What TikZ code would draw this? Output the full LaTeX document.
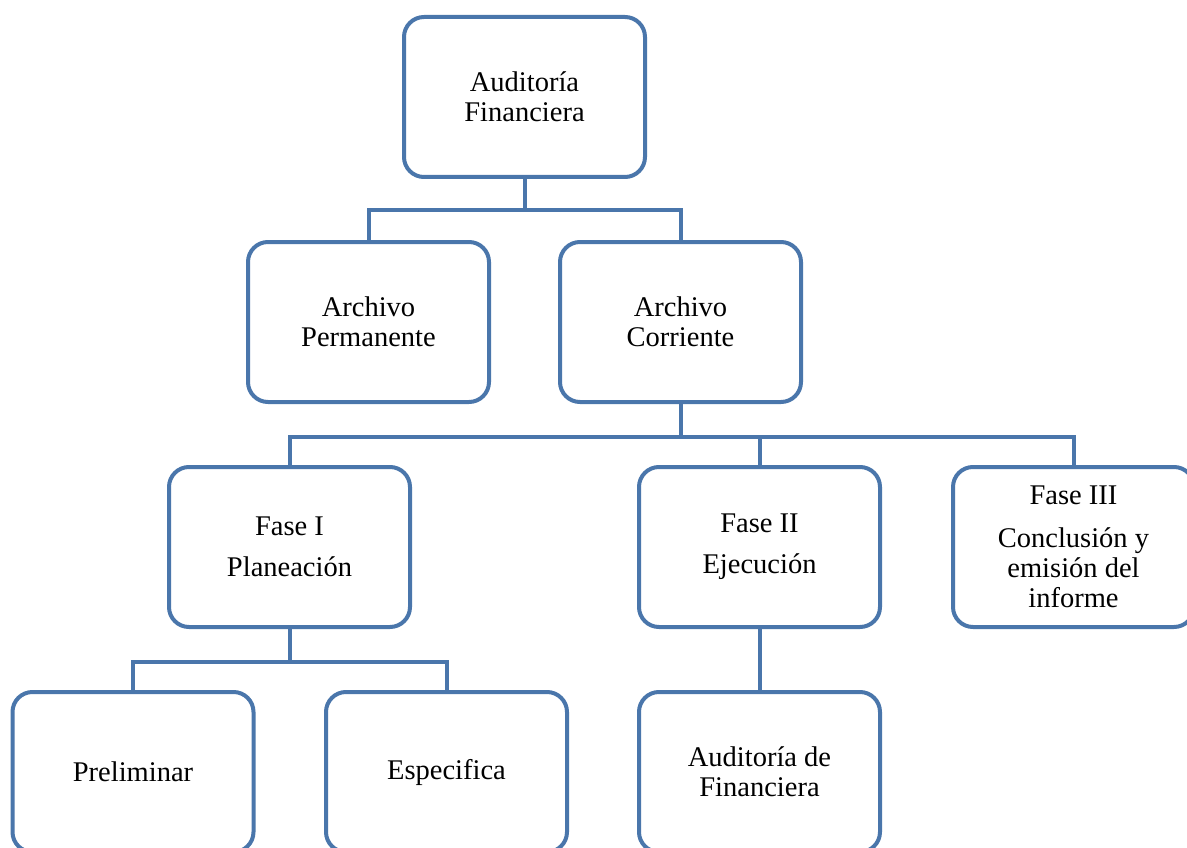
\documentclass[tikz,border=0pt]{standalone}
\usepackage{fontspec}
\setmainfont{Liberation Serif}
\definecolor{boxblue}{HTML}{4A76AB}
\begin{document}
\begin{tikzpicture}[x=1pt,y=-1pt,
  box/.style={draw=boxblue, line width=4pt, rounded corners=20pt, fill=white,
    minimum width=241pt, minimum height=160pt, align=center, inner sep=2pt,
    font=\fontsize{28.5}{30}\selectfont},
  link/.style={draw=boxblue, line width=4pt}]
\useasboundingbox (0,0) rectangle (1187,848);
\clip (0,0) rectangle (1187,848);
\node[box] (top) at (524.5,97) {Auditoría\\Financiera};
\node[box] (ap) at (368.5,322) {Archivo\\Permanente};
\node[box] (ac) at (680.5,322) {Archivo\\Corriente};
\node[box] (f1) at (289.5,547) {Fase I\\[11pt]Planeación};
\node[box] (f2) at (759.5,547) {Fase II\\[11pt]Ejecución};
\node[box] (f3) at (1073.5,547) {Fase III\\[13pt]Conclusión y\\emisión del\\informe};
\node[box] (pre) at (133,772) {Preliminar};
\node[box] (esp) at (446.5,772) {Especifica};
\node[box] (aud) at (759.5,772) {Auditoría de\\Financiera};
\draw[link] (top.south) -- ++(0,31) coordinate (j1);
\draw[link] (ap.north) |- (j1) -| (ac.north);
\draw[link] (ac.south) -- ++(0,33) coordinate (j2);
\draw[link] (f1.north) |- (j2) -| (f3.north);
\draw[link] (f2.north) -- (f2.north |- j2);
\draw[link] (f1.south) -- ++(0,33) coordinate (j3);
\draw[link] (pre.north) |- (j3) -| (esp.north);
\draw[link] (f2.south) -- (aud.north);
\end{tikzpicture}
\end{document}
